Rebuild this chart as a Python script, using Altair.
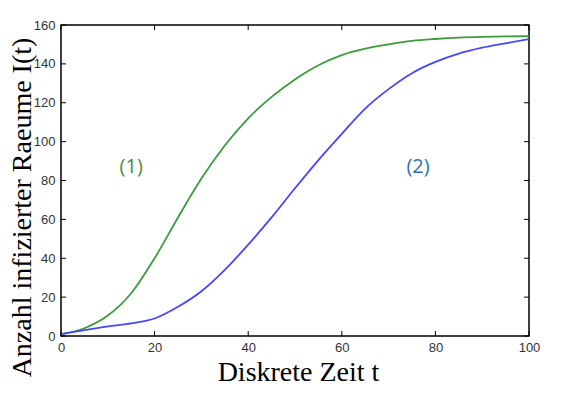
import altair as alt
import pandas as pd

# time steps
t_values = [0, 5, 10, 15, 20, 25, 30, 35, 40, 45, 50, 55, 60, 65, 70, 75, 80, 85, 90, 95, 100]
# curve (1) green
curve1 = [1, 4, 10.5, 22, 40, 61, 81, 98, 112, 123, 132, 139.3, 144.5, 147.8, 150, 151.8, 152.8, 153.5, 153.9, 154.1, 154.2]
# curve (2) blue
curve2 = [1, 3, 5, 6.5, 9, 15, 23, 34, 47, 61, 76, 90.5, 104, 117, 127, 135.2, 141, 145.3, 148.3, 150.6, 152.7]

series_names = ["(1)", "(2)"]
line_colors = ["#3a9c3a", "#4646ff"]
label_colors = ["#4e8c3a", "#2e74b5"]
label_t = [15, 76.3]
label_v = [87, 87]

x_ticks = [0, 20, 40, 60, 80, 100]
y_ticks = [0, 20, 40, 60, 80, 100, 120, 140, 160]

rows = []
for t, a, b in zip(t_values, curve1, curve2):
    rows.append({"t": t, "v": a, "s": series_names[0]})
    rows.append({"t": t, "v": b, "s": series_names[1]})
df = pd.DataFrame(rows)
labels = pd.DataFrame({"t": label_t, "v": label_v, "s": series_names})
xt = pd.DataFrame({"t": x_ticks})
yt = pd.DataFrame({"v": y_ticks})

W, H = 468, 311
xscale = alt.Scale(domain=[0, 100], nice=False)
yscale = alt.Scale(domain=[0, 160], nice=False)

xaxis = alt.Axis(
    values=x_ticks, title="Diskrete Zeit t", grid=False, ticks=False, domain=False,
    labelFont="Liberation Sans", labelFontSize=13, labelColor="#333333", labelPadding=5,
    labelFlush=False, labelOverlap=False,
    titleFont="Liberation Serif", titleFontSize=28, titleFontWeight="normal", titleColor="#000000",
    titleX=237, titleY=44, titleBaseline="alphabetic", titleAlign="center", titleAnchor="middle")
yaxis = alt.Axis(
    values=y_ticks, title="Anzahl infizierter Raeume I(t)", grid=False, ticks=False, domain=False,
    labelFont="Liberation Sans", labelFontSize=13, labelColor="#333333", labelPadding=6,
    labelFlush=False, labelOverlap=False,
    titleFont="Liberation Serif", titleFontSize=28, titleFontWeight="normal", titleColor="#000000",
    titleX=-31, titleY=182, titleBaseline="alphabetic", titleAlign="center", titleAngle=-90)

lines = alt.Chart(df).mark_line(strokeWidth=1.8, interpolate="monotone").encode(
    x=alt.X("t:Q", scale=xscale, axis=xaxis),
    y=alt.Y("v:Q", scale=yscale, axis=yaxis),
    color=alt.Color("s:N", scale=alt.Scale(domain=series_names, range=line_colors), legend=None),
)

text = alt.Chart(labels).mark_text(font="Open Sans", fontSize=20).encode(
    x=alt.X("t:Q", scale=xscale, axis=xaxis),
    y=alt.Y("v:Q", scale=yscale, axis=yaxis),
    text="s:N",
    color=alt.Color("s:N", scale=alt.Scale(domain=series_names, range=label_colors), legend=None),
)

tick_style = dict(color="#000000", strokeWidth=1)
xb = alt.Chart(xt).mark_rule(**tick_style).encode(x=alt.X("t:Q", scale=xscale, axis=xaxis), y=alt.value(H), y2=alt.value(H - 5))
xtop = alt.Chart(xt).mark_rule(**tick_style).encode(x=alt.X("t:Q", scale=xscale, axis=xaxis), y=alt.value(0), y2=alt.value(5))
yl = alt.Chart(yt).mark_rule(**tick_style).encode(y=alt.Y("v:Q", scale=yscale, axis=yaxis), x=alt.value(0), x2=alt.value(5))
yr = alt.Chart(yt).mark_rule(**tick_style).encode(y=alt.Y("v:Q", scale=yscale, axis=yaxis), x=alt.value(W), x2=alt.value(W - 5))

chart = alt.layer(lines, text, xb, xtop, yl, yr).resolve_scale(color="independent").properties(
    width=W, height=H,
    background="white",
    autosize=alt.AutoSizeParams(type="none"),
    padding={"left": 53, "top": 17, "right": 49, "bottom": 49},
).configure_view(stroke="#000000", strokeWidth=1.5).configure_axis(labelOverlap=False)

chart.save("out.html", embed_options={"renderer": "svg", "actions": False})
